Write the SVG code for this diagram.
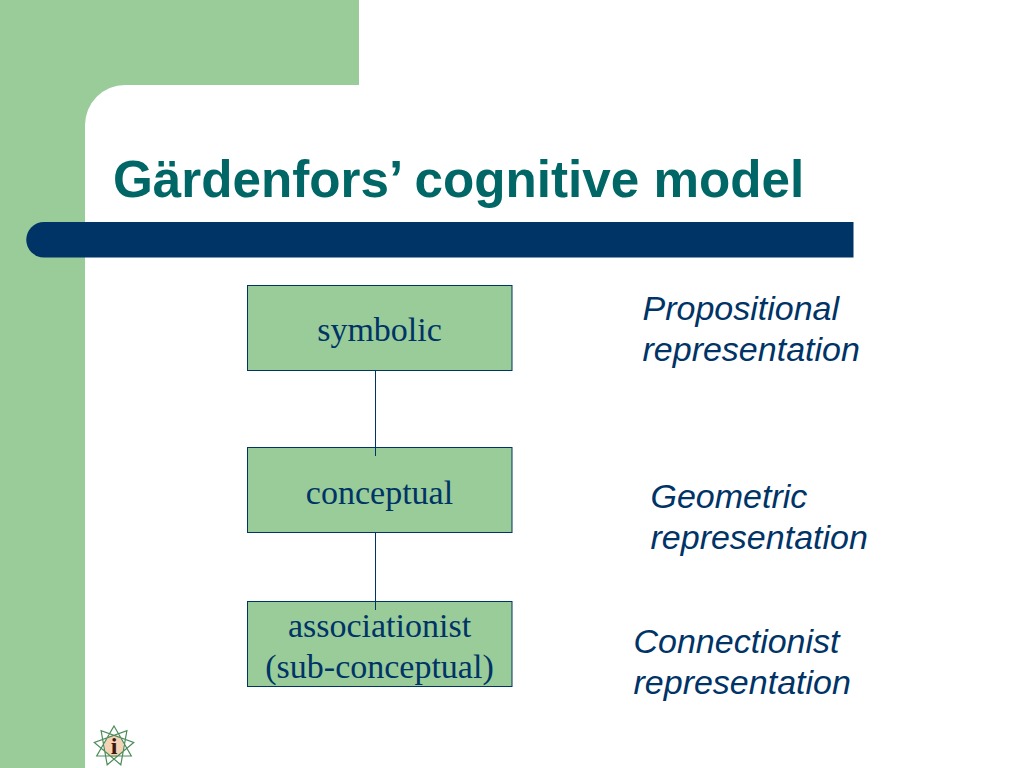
<svg xmlns="http://www.w3.org/2000/svg" width="1024" height="768" viewBox="0 0 1024 768">
<style>
.box{fill:#99cc99;stroke:#003366;stroke-width:1}
.lbl{font-family:"Liberation Serif",serif;font-size:34px;fill:#003366;text-anchor:middle}
.rep{font-family:"Liberation Sans",sans-serif;font-size:34px;font-style:italic;fill:#003366}
.conn{stroke:#003366;stroke-width:1;fill:none}
</style>
<g id="background">
<rect width="1024" height="768" fill="#ffffff"/>
<path d="M0 0H359V85H125A40 40 0 0 0 85 125V768H0Z" fill="#99cc99"/>
<path d="M44 222H853.500V257.500H44A17.750 17.750 0 0 1 44 222Z" fill="#003366"/>
</g>
<text id="title" x="113" y="197" font-family="Liberation Sans,sans-serif" font-size="51.200" font-weight="700" fill="#006666">Gärdenfors’ cognitive model</text>
<g id="node-symbolic">
<rect class="box" x="247.500" y="285.500" width="264.500" height="85"/>
<text class="lbl" x="379.500" y="341">symbolic</text>
</g>
<g id="node-conceptual">
<rect class="box" x="247.500" y="447.500" width="264.500" height="85"/>
<text class="lbl" x="379.500" y="503.500">conceptual</text>
</g>
<g id="node-associationist">
<rect class="box" x="247.500" y="601.500" width="264.500" height="85"/>
<text class="lbl" x="379.500" y="636.500">associationist</text>
<text class="lbl" x="379.500" y="677.500">(sub-conceptual)</text>
</g>
<g id="connectors">
<path class="conn" d="M375.500 371V456"/>
<path class="conn" d="M375.500 533V610"/>
</g>
<g id="label-propositional">
<text class="rep" x="642.500" y="320">Propositional</text>
<text class="rep" x="642.500" y="361">representation</text>
</g>
<g id="label-geometric">
<text class="rep" x="650.500" y="507.500">Geometric</text>
<text class="rep" x="650.500" y="548.500">representation</text>
</g>
<g id="label-connectionist">
<text class="rep" x="633.500" y="652.500">Connectionist</text>
<text class="rep" x="633.500" y="693.500">representation</text>
</g>
<g id="logo">
<ellipse cx="114" cy="746" rx="9.500" ry="11" fill="#f6d2b4"/>
<path d="M114 726L131.300 756H96.700Z M126.900 730.700L120.800 764.800L94.300 742.500Z M133.700 742.500L107.200 764.800L101.100 730.700Z" fill="none" stroke="#4d8c5a" stroke-width="1.200"/>
<text x="114" y="754" font-family="Liberation Serif,serif" font-size="24" font-weight="700" fill="#3a1a10" text-anchor="middle">i</text>
</g>
</svg>
